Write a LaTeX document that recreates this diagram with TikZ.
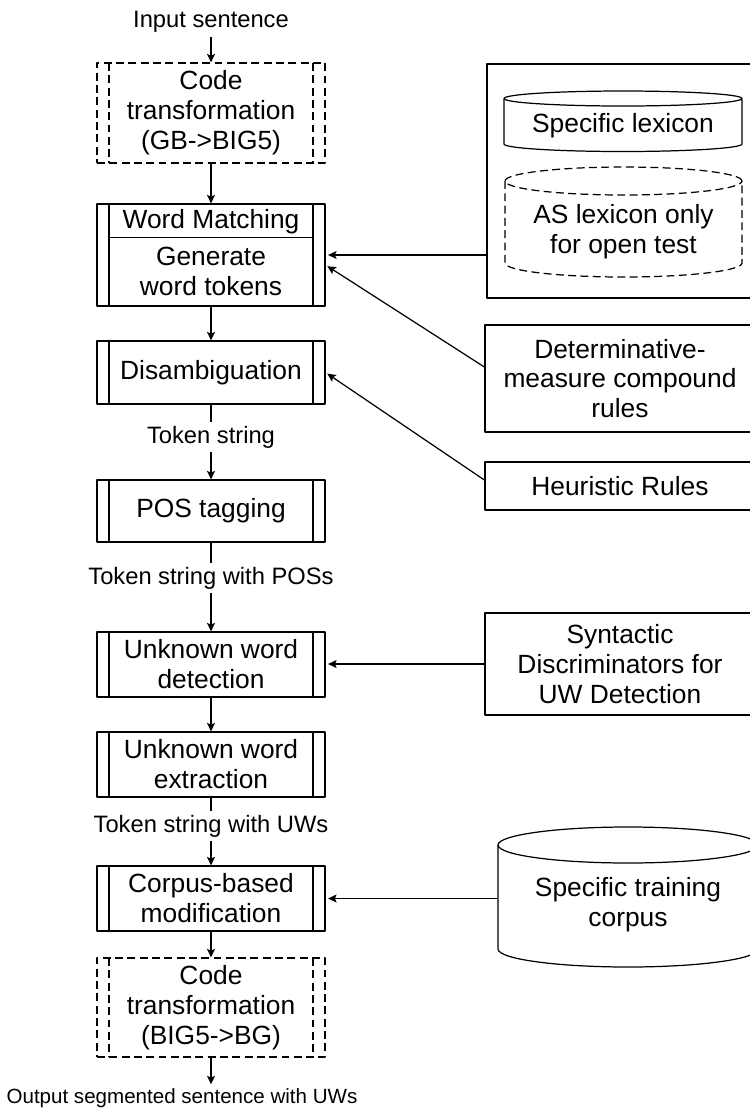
\documentclass[tikz,border=0pt]{standalone}
\usepackage{fontspec}
\setmainfont{Liberation Sans}
\usepackage{tikz}
\usetikzlibrary{arrows.meta, positioning, calc}

\newcommand{\boxfont}{\fontsize{15}{17}\selectfont}
\newcommand{\lblfont}{\fontsize{13.5}{16}\selectfont}

% Zylinder: [Stil]{x}{y oben}{y unten}{rx}{ry}
\newcommand{\drum}[6][]{%
  \draw[#1] (#2,#3) ellipse [x radius=#5, y radius=#6];
  \draw[#1] ({#2-#5},#3) -- ({#2-#5},#4) arc[start angle=180, end angle=360, x radius=#5, y radius=#6] -- ({#2+#5},#3);}

\tikzset{
  arr/.style={-{Stealth[length=1.7mm, width=1.6mm, inset=0.35mm]}},
  dashline/.style={dash pattern=on 4.5pt off 2.5pt},
  barbox/.style={draw, minimum width=4.56cm, align=center, font=\boxfont, inner sep=2pt,
    path picture={\draw[#1]
      ([xshift=2.4mm]path picture bounding box.north west) -- ([xshift=2.4mm]path picture bounding box.south west)
      ([xshift=-2.4mm]path picture bounding box.north east) -- ([xshift=-2.4mm]path picture bounding box.south east);}},
  procbox/.style={barbox=solid},
  codebox/.style={barbox=dashline, dashline},
  sidebox/.style={draw, minimum width=5.4cm, align=center, font=\boxfont, inner sep=2pt},
  lbl/.style={font=\lblfont, inner sep=2pt},
}

\begin{document}
\begin{tikzpicture}[line width=0.7pt, line join=round]
  \useasboundingbox (0,0) rectangle (15,-22.24);
  % Hauptkette links
  \node[lbl] (input) at (4.22,-0.44) {Input sentence};
  \node[codebox, minimum height=2.0cm] (code1) at (4.22,-2.26) {Code\\transformation\\(GB->BIG5)};
  \node[procbox, minimum height=2.04cm] (match) at (4.22,-5.10) {};
  \node[font=\boxfont] (matchtop) at (4.22,-4.44) {Word Matching};
  \node[font=\boxfont, align=center] (matchgen) at (4.22,-5.42) {Generate\\word tokens};
  \draw ([shift={(2.4mm,-6.8mm)}]match.north west) -- ([shift={(-2.4mm,-6.8mm)}]match.north east);
  \node[procbox, minimum height=1.26cm] (disamb) at (4.22,-7.45) {Disambiguation};
  \node[lbl] (tok1) at (4.22,-8.74) {Token string};
  \node[procbox, minimum height=1.24cm] (pos) at (4.22,-10.22) {POS tagging};
  \node[lbl] (tok2) at (4.22,-11.56) {Token string with POSs};
  \node[procbox, minimum height=1.3cm] (detect) at (4.22,-13.29) {Unknown word\\detection};
  \node[procbox, minimum height=1.3cm] (extract) at (4.22,-15.29) {Unknown word\\extraction};
  \node[lbl] (tok3) at (4.22,-16.52) {Token string with UWs};
  \node[procbox, minimum height=1.3cm] (corpus) at (4.22,-17.97) {Corpus-based\\modification};
  \node[codebox, minimum height=1.98cm] (code2) at (4.22,-20.15) {Code\\transformation\\(BIG5->BG)};
  \node[lbl, font=\fontsize{11.7}{14}\selectfont] (output) at (3.64,-21.96) {Output segmented sentence with UWs};
  % Pfeile der Kette
  \draw[arr] (input) -- (code1);
  \draw[arr] (code1) -- (match);
  \draw[arr] (match) -- (disamb);
  \draw (disamb) -- (tok1);
  \draw[arr] (tok1) -- (pos);
  \draw (pos) -- (tok2);
  \draw[arr] (tok2) -- (detect);
  \draw[arr] (detect) -- (extract);
  \draw (extract) -- (tok3);
  \draw[arr] (tok3) -- (corpus);
  \draw[arr] (corpus) -- (code2);
  \draw[arr] (code2) -- (code2 |- output.north);
  % Lexika
  \node[draw, minimum width=5.36cm, minimum height=4.68cm] (lexbox) at (12.42,-3.62) {};
  \drum{12.46}{-1.97}{-2.88}{2.38}{0.15}
  \node[font=\boxfont] (speclex) at (12.46,-2.52) {Specific lexicon};
  \drum[dashline]{12.47}{-3.62}{-5.26}{2.37}{0.28}
  \node[font=\boxfont, align=center] (aslex) at (12.47,-4.64) {AS lexicon only\\for open test};
  % Regeln
  \node[sidebox, minimum height=2.14cm] (determ) at (12.40,-7.57) {Determinative-\\measure compound\\rules};
  \node[sidebox, minimum height=0.96cm] (heur) at (12.40,-9.72) {Heuristic Rules};
  \node[sidebox, minimum height=2.04cm] (synt) at (12.40,-13.28) {Syntactic\\Discriminators for\\UW Detection};
  % Trainingskorpus
  \drum{12.56}{-16.9}{-18.98}{2.6}{0.36}
  \node[font=\boxfont, align=center, minimum width=5.2cm] (train) at (12.56,-18.1) {Specific training\\corpus};
  % Pfeile von rechts
  \draw[arr, shorten >=0.5mm] (lexbox.west |- match.east) -- (match.east);
  \draw[arr, shorten >=0.4mm] ([yshift=2.3mm]determ.west) -- ([yshift=-2mm]match.east);
  \draw[arr, shorten >=0.4mm] ([yshift=1.2mm]heur.west) -- (disamb.east);
  \draw[arr, shorten >=0.5mm] (synt.west) -- (synt.west -| detect.east);
  \draw[arr, shorten >=0.5mm] (train.west |- corpus.east) -- (corpus.east);
\end{tikzpicture}
\end{document}
